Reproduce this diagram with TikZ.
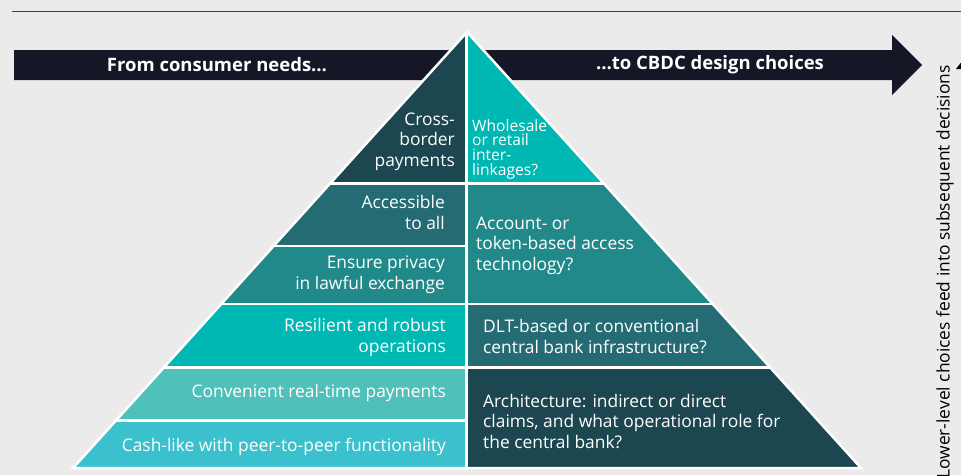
\documentclass[tikz,border=0pt]{standalone}
\usepackage{fontspec}
\setmainfont{Open Sans}
\definecolor{bg}{HTML}{EBEBEB}
\definecolor{banner}{HTML}{151726}
\definecolor{cdark}{HTML}{1C4650}
\definecolor{cmd}{HTML}{256B73}
\definecolor{cmid}{HTML}{22898A}
\definecolor{cbright}{HTML}{00B8B3}
\definecolor{clight}{HTML}{4FC1BA}
\definecolor{ccyan}{HTML}{3AC1CD}
\begin{document}
\begin{tikzpicture}[x=1pt,y=-1pt,
  lefttext/.style={text=white, align=right, anchor=base east, inner sep=0pt, font=\fontsize{17.4}{20.5}\selectfont},
  righttext/.style={text=white, align=left, anchor=base west, inner sep=0pt, font=\fontsize{17.4}{20.5}\selectfont},
  bannertext/.style={text=white, inner sep=0pt, font=\fontsize{18.5}{20}\selectfont\bfseries},
  gap/.style={white, line width=2.5pt}]
\fill[bg] (0,0) rectangle (961,475);
\useasboundingbox (0,0) rectangle (961,475);
% top rule
\draw[black!75, line width=1.5pt] (12,11.5) -- (961,11.5);
% banner arrow
\fill[banner] (14,50) -- (892,50) -- (892,35) -- (922,65) -- (892,95) -- (892,80) -- (14,80) -- cycle;
% pyramid
\begin{scope}
\clip (467,32) -- (861,468) -- (73,468) -- cycle;
\fill[cdark]   (0,0) rectangle (466.5,183.5);
\fill[cmd]     (0,183.5) rectangle (466.5,246);
\fill[cmid]    (0,246) rectangle (466.5,304);
\fill[cbright] (0,304) rectangle (466.5,367.5);
\fill[clight]  (0,367.5) rectangle (466.5,420.5);
\fill[ccyan]   (0,420.5) rectangle (466.5,470);
\fill[cbright] (466.5,0) rectangle (961,183.5);
\fill[cmid]    (466.5,183.5) rectangle (961,304);
\fill[cmd]     (466.5,304) rectangle (961,367.5);
\fill[cdark]   (466.5,367.5) rectangle (961,470);
\draw[gap] (466.5,0) -- (466.5,470);
\draw[gap] (0,183.5) -- (961,183.5);
\draw[gap] (0,246) -- (466.5,246);
\draw[gap] (0,304) -- (961,304);
\draw[gap] (0,367.5) -- (961,367.5);
\draw[gap] (0,420.5) -- (466.5,420.5);
\end{scope}
\draw[gap, line join=miter] (467,32) -- (861,468) -- (73,468) -- cycle;
% banner texts
\node[bannertext] (from) at (217,65) {From consumer needs…};
\node[bannertext] (to) at (710,65) {…to CBDC design choices};
% left texts (anchor = baseline of last line)
\node[lefttext] (cross) at (455,166) {Cross-\\border\\payments};
\node[lefttext] (access) at (445,229) {Accessible\\to all};
\node[lefttext] (privacy) at (445,289) {Ensure privacy\\in lawful exchange};
\node[lefttext] (resil) at (446,352) {Resilient and robust\\operations};
\node[lefttext] (conv) at (446,397) {Convenient real-time payments};
\node[lefttext] (cash) at (446,451) {Cash-like with peer-to-peer functionality};
% right texts
\node[righttext, font=\fontsize{15.6}{14.6}\selectfont] (whole) at (472,175) {Wholesale\\or retail\\inter-\\linkages?};
\node[righttext] (account) at (476,270) {Account- or\\token-based access\\technology?};
\node[righttext] (dlt) at (483,353) {DLT-based or conventional\\central bank infrastructure?};
\node[righttext] (arch) at (483,448) {Architecture: indirect or direct\\claims, and what operational role for\\the central bank?};
% side label
\node[text=black, inner sep=0pt, rotate=90, anchor=east, font=\fontsize{17.4}{18}\selectfont] (side) at (945,65) {Lower-level choices feed into subsequent decisions};
\fill[black] (956,69) -- (963,60) -- (970,69) -- cycle;
\end{tikzpicture}
\end{document}
